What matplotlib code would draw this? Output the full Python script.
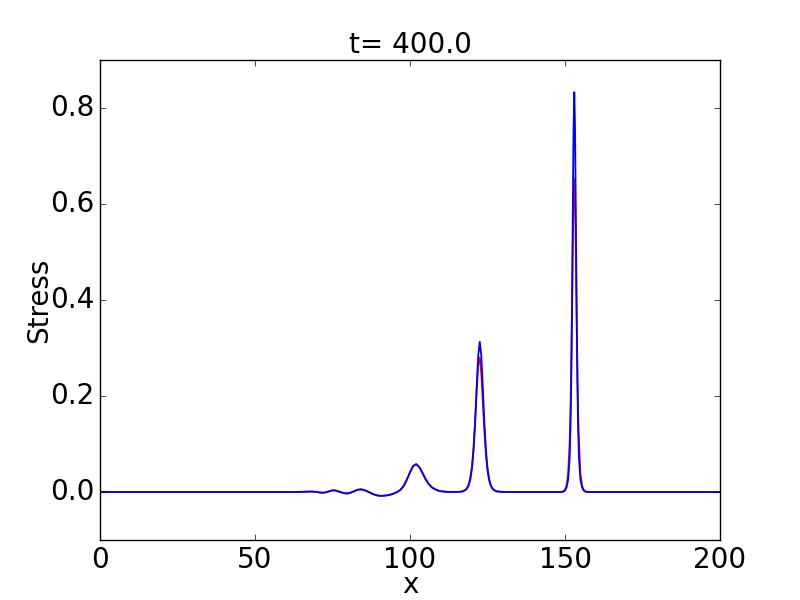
import matplotlib
matplotlib.use("Agg")
import matplotlib.pyplot as plt
import numpy as np

# shared low-amplitude wave region (red and blue coincide here)
x_waves = [0, 20, 40, 60, 62, 64, 65, 66, 67, 68, 69, 70, 71, 72, 73, 74, 75, 76, 77, 78,
           79, 80, 81, 82, 83, 84, 85, 86, 87, 88, 89, 90, 91, 92, 93, 94, 95, 96, 97, 98,
           99, 100, 101, 102, 103, 104, 105, 106, 107, 108, 109, 110, 111, 112, 114]
stress_waves = [0.0, 0.0, 0.0, 0.0, 0.0, 0.0, 0.0003, 0.0005, 0.0008, 0.001, 0.0006, 0.0,
                -0.0012, -0.0015, -0.0005, 0.0015, 0.0035, 0.003, 0.001, -0.001, -0.0028,
                -0.003, -0.001, 0.0015, 0.0045, 0.0055, 0.0045, 0.002, -0.001, -0.004,
                -0.0065, -0.0078, -0.008, -0.0075, -0.0065, -0.005, -0.0025, 0.0005, 0.005,
                0.013, 0.026, 0.041, 0.054, 0.058, 0.052, 0.040, 0.027, 0.017, 0.010, 0.006,
                0.003, 0.0015, 0.0008, 0.0003, 0.0001]

# peak region
x_peaks = [116, 117, 118, 118.5, 119, 119.5, 120, 120.5, 121, 121.5,
           122, 122.5, 123, 123.5, 124, 124.5, 125, 125.5, 126, 126.5,
           127, 128, 130, 135, 140, 145, 148, 149, 149.5, 150,
           150.5, 151, 151.5, 151.75, 152, 152.25, 152.5, 152.75, 153, 153.25,
           153.5, 153.75, 154, 154.25, 154.5, 155, 155.5, 156, 156.5, 157,
           158, 160, 180, 200]
stress_blue_peaks = [0.0003, 0.0012, 0.0043, 0.0081, 0.015, 0.0275, 0.050, 0.0867, 0.143, 0.216,
                     0.284, 0.313, 0.284, 0.216, 0.143, 0.0867, 0.050, 0.0275, 0.015, 0.0081,
                     0.0043, 0.0012, 0.0001, 0.0, 0.0, 0.0, 0.0, 0.0, 0.001, 0.003,
                     0.010, 0.025, 0.071, 0.130, 0.227, 0.378, 0.572, 0.754, 0.833, 0.754,
                     0.572, 0.378, 0.227, 0.130, 0.071, 0.025, 0.010, 0.003, 0.001, 0.0,
                     0.0, 0.0, 0.0, 0.0]
stress_red_peaks = [0.0005, 0.0016, 0.0053, 0.0098, 0.0177, 0.0314, 0.0552, 0.0928, 0.1474, 0.2116,
                    0.265, 0.280, 0.247, 0.1856, 0.124, 0.0759, 0.0443, 0.025, 0.014, 0.0078,
                    0.0043, 0.0013, 0.0001, 0.0, 0.0, 0.0, 0.0001, 0.0006, 0.0017, 0.0047,
                    0.013, 0.037, 0.103, 0.163, 0.251, 0.369, 0.500, 0.609, 0.652, 0.609,
                    0.500, 0.369, 0.251, 0.163, 0.103, 0.037, 0.013, 0.0047, 0.0017, 0.0006,
                    0.0001, 0.0, 0.0, 0.0]

x_all = x_waves + x_peaks
stress_red = stress_waves + stress_red_peaks
stress_blue = stress_waves + stress_blue_peaks

x_ticks = [0, 50, 100, 150, 200]
y_ticks = [0.0, 0.2, 0.4, 0.6, 0.8]

plt.style.use("classic")
plt.rcParams["font.family"] = ["DejaVu Sans"]

fig = plt.figure(figsize=(8, 6), dpi=100, facecolor="white")
ax = fig.add_axes([0.125, 0.1, 0.775, 0.8])
ax.plot(x_all, stress_red, color="red", lw=1.3)
ax.plot(x_all, stress_blue, color="blue", lw=1.3)
ax.set_xlim(0, 200)
ax.set_ylim(-0.1, 0.9)
ax.set_xticks(x_ticks)
ax.set_yticks(y_ticks)
ax.set_yticklabels([f"{v:.1f}" for v in y_ticks])
ax.tick_params(labelsize=20)
ax.set_title("t= 400.0", fontsize=20)
ax.set_xlabel("x", fontsize=20, labelpad=-2)
ax.set_ylabel("Stress", fontsize=20, labelpad=-2)
fig.savefig("out.png", dpi=100, facecolor="white")
